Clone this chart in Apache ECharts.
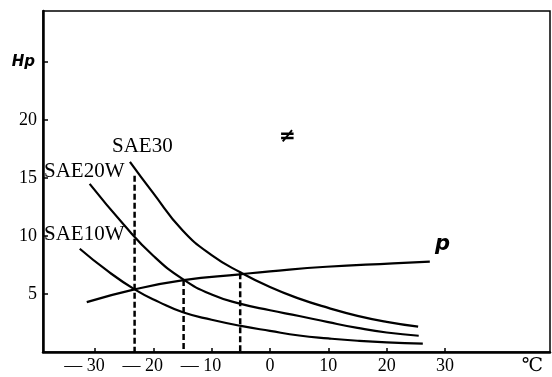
<!DOCTYPE html>
<html>
<head>
<meta charset="utf-8">
<script src="https://cdn.jsdelivr.net/npm/echarts@6/dist/echarts.min.js"></script>
<style>
  html, body { margin: 0; padding: 0; background: #fff; }
  #chart { width: 552px; height: 377px; }
</style>
</head>
<body>
<div id="chart"></div>
<script>
  // values (temperature in C, power in Hp)
  var sae30X = [-24, -20, -15, -10, -5, 0, 5, 10, 15, 20, 25.4];
  var sae30Y = [16.4, 13.7, 10.5, 8.35, 6.85, 5.6, 4.6, 3.8, 3.12, 2.6, 2.18];
  var sae20X = [-30.9, -25, -20, -15, -10, -5, 0, 5, 10, 15, 20, 25.5];
  var sae20Y = [14.5, 10.95, 8.3, 6.3, 4.95, 4.15, 3.6, 3.1, 2.57, 2.08, 1.68, 1.4];
  var sae10X = [-32.6, -28, -23.2, -19, -14.8, -10, -5, 0, 5, 10, 15, 20, 26.2];
  var sae10Y = [8.9, 7.05, 5.4, 4.3, 3.4, 2.78, 2.25, 1.82, 1.42, 1.17, 0.97, 0.83, 0.73];
  var pX = [-31.4, -23.2, -14.8, -5.1, 0, 9.7, 21.1, 27.4];
  var pY = [4.3, 5.4, 6.2, 6.7, 6.95, 7.35, 7.64, 7.8];
  var dashX = [-23.2, -14.8, -5.1];
  var dashTop = [15.2, 6.2, 6.8];

  var xTicks = [-30, -20, -10, 0, 10, 20, 30];
  var yTicks = [5, 10, 15, 20];
  var yUnitAt = 25;   // where "Hp" sits
  var xUnitAt = 45;   // where the degree sign sits

  function pairs(xs, ys) {
    var out = [];
    for (var i = 0; i < xs.length; i++) out.push([xs[i], ys[i]]);
    return out;
  }

  var chart = echarts.init(document.getElementById('chart'));

  var curve = function (name, xs, ys) {
    return {
      name: name, type: 'line', smooth: 0.5,
      showSymbol: false, symbol: 'none',
      data: pairs(xs, ys),
      lineStyle: { color: '#000', width: 2.2 },
      silent: true
    };
  };

  var series = [
    curve('SAE30', sae30X, sae30Y),
    curve('SAE20W', sae20X, sae20Y),
    curve('SAE10W', sae10X, sae10Y),
    curve('p', pX, pY)
  ];
  for (var i = 0; i < dashX.length; i++) {
    series.push({
      type: 'line', symbol: 'none', silent: true,
      data: [[dashX[i], dashTop[i]], [dashX[i], 0]],
      lineStyle: { color: '#000', width: 2.5, type: [6, 3] }
    });
  }

  var serif = '"Liberation Serif", "DejaVu Serif", serif';

  var option = {
    animation: false,
    backgroundColor: '#fff',
    grid: {
      left: 43, top: 11, right: 2, bottom: 25,
      show: true, borderColor: '#000', borderWidth: 1.5
    },
    xAxis: {
      type: 'value', min: -38.9, max: 48,
      splitLine: { show: false },
      axisLine: { onZero: false, lineStyle: { color: '#000', width: 2.5 } },
      axisTick: { inside: true, length: 4, lineStyle: { color: '#000', width: 1.5 }, customValues: xTicks },
      axisLabel: {
        customValues: xTicks.concat([xUnitAt]),
        margin: 5,
        formatter: function (v) {
          if (v === xUnitAt) return '{u|℃}';
          if (v < 0) return '{n|— ' + (-v) + '}';
          return '{p|' + v + '}';
        },
        rich: {
          n: { fontFamily: serif, fontSize: 18, color: '#000', padding: [0, 21, 0, 0] },
          p: { fontFamily: serif, fontSize: 18, color: '#000' },
          u: { fontFamily: serif, fontSize: 19, color: '#000' }
        }
      }
    },
    yAxis: {
      type: 'value', min: 0, max: 29.4,
      splitLine: { show: false },
      axisLine: { onZero: false, lineStyle: { color: '#000', width: 2.5 } },
      axisTick: { inside: true, length: 5, lineStyle: { color: '#000', width: 1.5 }, customValues: yTicks.concat([yUnitAt]) },
      axisLabel: {
        customValues: yTicks.concat([yUnitAt]),
        margin: 6,
        formatter: function (v) {
          if (v === yUnitAt) return '{h|Hp}';
          return '{d|' + v + '}';
        },
        rich: {
          d: { fontFamily: serif, fontSize: 18, color: '#000' },
          h: { fontFamily: '"DejaVu Sans", sans-serif', fontSize: 15, fontWeight: 'bold', fontStyle: 'italic', color: '#000', padding: [0, 2, 0, 0] }
        }
      }
    },
    graphic: [
      { type: 'text', left: 112, top: 136, style: { text: 'SAE30', font: '21px ' + serif, fill: '#000' } },
      { type: 'text', left: 44, top: 161, style: { text: 'SAE20W', font: '21px ' + serif, fill: '#000' } },
      { type: 'text', left: 44, top: 224, style: { text: 'SAE10W', font: '21px ' + serif, fill: '#000' } },
      { type: 'text', left: 435, top: 234, style: { text: 'p', font: 'italic bold 21px "DejaVu Sans", sans-serif', fill: '#000' } },
      { type: 'text', left: 279, top: 127, style: { text: '≠', font: 'italic bold 20px "DejaVu Sans", sans-serif', fill: '#000' } }
    ],
    series: series
  };

  chart.setOption(option);
</script>
</body>
</html>
